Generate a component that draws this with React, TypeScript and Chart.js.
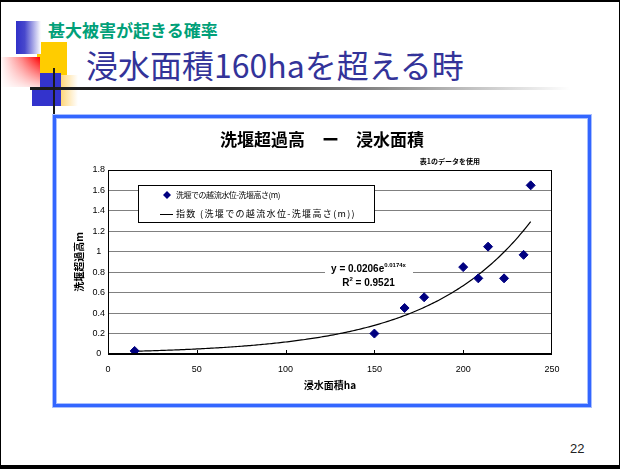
import React, { useEffect, useRef } from "react";
import { Chart, registerables } from "chart.js";

Chart.register(...registerables);

// ---- data ----
const floodArea = [15, 150, 167, 178, 200, 208.5, 214, 223, 234, 238]; // 浸水面積 (ha)
const overflowHeight = [0.03, 0.2, 0.45, 0.555, 0.85, 0.74, 1.05, 0.74, 0.97, 1.65]; // 洗堰超過高 (m)
const xTickValues = [0, 50, 100, 150, 200, 250];
const yTickValues = [0, 0.2, 0.4, 0.6, 0.8, 1, 1.2, 1.4, 1.6, 1.8];

// exponential trend line y = a * e^(b x), as given by the fit label
const trendA = 0.0206;
const trendB = 0.0174;
const trendR2 = 0.9521;

const seriesLabel = "洗堰での越流水位-洗堰高さ(m)";
const trendLabel = "指数 (洗堰での越流水位-洗堰高さ(m))";
const chartTitle = "洗堰超過高　ー　浸水面積";
const chartNote = "表1のデータを使用";
const xTitle = "浸水面積ha";
const yTitle = "洗堰超過高m";
const slideKicker = "甚大被害が起きる確率";
const slideTitle = "浸水面積160haを超える時";
const slideNumber = "22";

const SANS = "'Liberation Sans', 'Noto Sans CJK JP', sans-serif";
const JP = "'Noto Sans CJK JP', sans-serif";
const MARKER = "#000080";

const xMin = Math.min(...floodArea);
const xMax = Math.max(...floodArea);
const trendPoints: { x: number; y: number }[] = [];
for (let x = xMin; x <= xMax; x += 1) {
  trendPoints.push({ x, y: trendA * Math.exp(trendB * x) });
}

function diamond(ctx: CanvasRenderingContext2D, x: number, y: number, r: number) {
  ctx.beginPath();
  ctx.moveTo(x, y - r);
  ctx.lineTo(x + r, y);
  ctx.lineTo(x, y + r);
  ctx.lineTo(x - r, y);
  ctx.closePath();
  ctx.fill();
}

// text spread or squeezed to a set run length
function fitText(ctx: CanvasRenderingContext2D, text: string, x: number, y: number, width: number) {
  const c = ctx as any;
  c.letterSpacing = "0px";
  const natural = ctx.measureText(text).width;
  const n = Array.from(text).length;
  c.letterSpacing = `${(width - natural) / n}px`;
  ctx.fillText(text, x, y);
  c.letterSpacing = "0px";
}

// plot frame, inner x ticks, title, note, legend and the fit equation
const overlayPlugin = {
  id: "chartOverlay",
  afterDraw(chart: any) {
    const { ctx, chartArea: a, scales } = chart;
    const xs = scales.x;
    ctx.save();

    // plot area border
    ctx.strokeStyle = "#000";
    ctx.lineWidth = 1;
    ctx.strokeRect(Math.round(a.left) + 0.5, Math.round(a.top) + 0.5, Math.round(a.width) - 1, Math.round(a.height));
    ctx.lineWidth = 2;
    ctx.beginPath();
    ctx.moveTo(a.left, Math.round(a.bottom));
    ctx.lineTo(a.right, Math.round(a.bottom));
    ctx.stroke();

    // tick marks pointing into the plot
    ctx.lineWidth = 1;
    xTickValues.slice(1, -1).forEach((v) => {
      const px = Math.round(xs.getPixelForValue(v)) + 0.5;
      ctx.beginPath();
      ctx.moveTo(px, a.bottom);
      ctx.lineTo(px, a.bottom - 4);
      ctx.stroke();
    });

    // chart title and note
    ctx.fillStyle = "#000";
    ctx.font = `bold 17px ${JP}`;
    ctx.textAlign = "center";
    ctx.textBaseline = "middle";
    ctx.fillText(chartTitle, a.left + 214, a.top - 30);
    ctx.font = `bold 7px ${JP}`;
    ctx.textAlign = "right";
    ctx.fillText(chartNote, a.left + 372, a.top - 9);

    // legend
    const lx = a.left + 30;
    const ly = a.top + 15;
    ctx.fillStyle = "#fff";
    ctx.fillRect(lx, ly, 236, 37);
    ctx.strokeStyle = "#000";
    ctx.lineWidth = 1;
    ctx.strokeRect(Math.round(lx) + 0.5, Math.round(ly) + 0.5, 236, 37);
    ctx.fillStyle = MARKER;
    diamond(ctx, a.left + 59, a.top + 25, 4);
    ctx.beginPath();
    ctx.moveTo(a.left + 52, a.top + 44.5);
    ctx.lineTo(a.left + 65, a.top + 44.5);
    ctx.strokeStyle = "#000";
    ctx.stroke();
    ctx.fillStyle = "#000";
    ctx.textAlign = "left";
    ctx.textBaseline = "middle";
    ctx.font = `8px ${JP}`;
    fitText(ctx, seriesLabel, a.left + 68, a.top + 25, 104);
    ctx.font = `9px ${JP}`;
    fitText(ctx, trendLabel, a.left + 68, a.top + 44, 180);

    // fit equation with white backing
    ctx.fillStyle = "#fff";
    ctx.fillRect(a.left + 217, a.top + 91, 88, 29);
    ctx.fillStyle = "#000";
    ctx.textBaseline = "alphabetic";
    const cx = a.left + 260.5;
    const drawSup = (main: string, sup: string, tail: string, baseY: number) => {
      ctx.font = `bold 10px ${SANS}`;
      const w1 = ctx.measureText(main).width;
      const w3 = ctx.measureText(tail).width;
      ctx.font = `bold 6px ${SANS}`;
      const w2 = ctx.measureText(sup).width;
      let x = cx - (w1 + w2 + w3) / 2;
      ctx.font = `bold 10px ${SANS}`;
      ctx.fillText(main, x, baseY);
      x += w1;
      ctx.font = `bold 6px ${SANS}`;
      ctx.fillText(sup, x, baseY - 5);
      x += w2;
      ctx.font = `bold 10px ${SANS}`;
      ctx.fillText(tail, x, baseY);
    };
    drawSup(`y = ${trendA}e`, `${trendB}x`, "", a.top + 102);
    drawSup("R", "2", ` = ${trendR2}`, a.top + 116);

    ctx.restore();
  },
};

export default function App() {
  const ref = useRef<HTMLCanvasElement>(null);

  useEffect(() => {
    const canvas = ref.current;
    if (!canvas) return;
    const chart = new Chart(canvas, {
      type: "scatter",
      data: {
        datasets: [
          {
            label: seriesLabel,
            data: floodArea.map((x, i) => ({ x, y: overflowHeight[i] })),
            pointStyle: "rectRot",
            pointRadius: 4.5,
            backgroundColor: MARKER,
            borderColor: MARKER,
            borderWidth: 1,
            order: 1,
          },
          {
            label: trendLabel,
            data: trendPoints,
            showLine: true,
            pointRadius: 0,
            borderColor: "#000",
            borderWidth: 1.2,
            tension: 0,
            order: 2,
          },
        ],
      },
      options: {
        responsive: false,
        maintainAspectRatio: false,
        animation: false,
        layout: { padding: { left: 68, right: 68, top: 170, bottom: 79 } },
        plugins: {
          legend: { display: false },
          title: { display: false },
          tooltip: { enabled: false },
        },
        scales: {
          x: {
            type: "linear",
            min: 0,
            max: 250,
            afterFit: (s: any) => {
              s.height = 40;
            },
            afterBuildTicks: (s: any) => {
              s.ticks = xTickValues.map((value) => ({ value }));
            },
            grid: { display: false, drawTicks: false },
            border: { display: false },
            ticks: {
              font: { family: SANS, size: 9 },
              color: "#000",
              padding: 10,
              maxRotation: 0,
              autoSkip: false,
            },
            title: {
              display: true,
              text: xTitle,
              color: "#000",
              font: { family: JP, size: 10, weight: "bold" },
              padding: { top: 0, bottom: 3 },
            },
          },
          y: {
            type: "linear",
            min: 0,
            max: 1.8,
            afterFit: (s: any) => {
              s.width = 40;
            },
            afterBuildTicks: (s: any) => {
              s.ticks = yTickValues.map((value) => ({ value }));
            },
            grid: { color: "#808080", lineWidth: 1, drawTicks: false },
            border: { display: false },
            ticks: {
              font: { family: SANS, size: 9 },
              color: "#000",
              padding: 3,
              crossAlign: "center",
              callback: (v: any) => String(Math.round(Number(v) * 10) / 10),
            },
            title: {
              display: true,
              text: yTitle,
              color: "#000",
              font: { family: JP, size: 10, weight: "bold" },
              padding: { top: 5, bottom: 0 },
            },
          },
        },
      },
      plugins: [overlayPlugin],
    } as any);
    return () => chart.destroy();
  }, []);

  const abs = (s: React.CSSProperties): React.CSSProperties => ({ position: "absolute", ...s });

  return (
    <div style={{ position: "fixed", left: 0, top: 0, width: 620, height: 473, background: "#fff", overflow: "hidden" }}>
      {/* slide corner ornament */}
      <div style={abs({ left: 37, top: 42, width: 30, height: 33, background: "#ffcc00" })} />
      <div style={abs({ left: 16, top: 21, width: 25, height: 33, background: "linear-gradient(to right, #3030c8 0%, #4848cc 35%, #ffffff 100%)" })} />
      <div style={abs({ left: 32, top: 73, width: 29, height: 33, background: "#3333cc" })} />
      <div style={abs({ left: 61, top: 75, width: 17, height: 31, background: "linear-gradient(to right, #ffd77a 0%, #fff3da 70%, #ffffff 100%)" })} />
      <div
        style={abs({
          left: 0,
          top: 57,
          width: 40,
          height: 30,
          background:
            "linear-gradient(to bottom, rgba(255,255,255,0) 0%, rgba(255,255,255,0.85) 100%), linear-gradient(to right, #ffffff 0%, #ff8080 55%, #ff0000 100%)",
        })}
      />
      <div style={abs({ left: 30, top: 87, width: 540, height: 3, background: "linear-gradient(to right, #1a1a1a 0%, #2a2a2a 35%, #9a9a9a 70%, #ffffff 100%)" })} />
      <div style={abs({ left: 53, top: 68, width: 2, height: 47, background: "#1a1a1a" })} />

      {/* slide headings */}
      <div style={abs({ left: 48, top: 21, fontFamily: JP, fontWeight: 700, fontSize: 17, lineHeight: "17px", color: "#00a078", whiteSpace: "nowrap" })}>
        {slideKicker}
      </div>
      <div style={abs({ left: 86, top: 48, fontFamily: JP, fontWeight: 400, fontSize: 32, lineHeight: "32px", color: "#333399", whiteSpace: "nowrap" })}>
        {slideTitle}
      </div>

      {/* chart frame */}
      <div
        style={abs({
          left: 53,
          top: 115,
          width: 538,
          height: 292,
          boxSizing: "border-box",
          border: "3px solid #3366ff",
          boxShadow: "0 0 0 1px #a9bfff, inset 0 0 0 1px #a9bfff",
          background: "#fff",
        })}
      />

      {/* page number and slide edges */}
      <div style={abs({ left: 570, top: 442, fontFamily: SANS, fontSize: 13, lineHeight: "13px", color: "#222" })}>{slideNumber}</div>
      <div style={abs({ left: 0, top: 0, width: 620, height: 2, background: "#000" })} />
      <div style={abs({ left: 0, top: 0, width: 1, height: 469, background: "#000" })} />
      <div style={abs({ left: 619, top: 0, width: 1, height: 469, background: "#000" })} />
      <div style={abs({ left: 0, top: 465, width: 620, height: 4, background: "#000" })} />

      <canvas ref={ref} width={620} height={473} style={abs({ left: 0, top: 0, width: 620, height: 473 })} />
    </div>
  );
}
